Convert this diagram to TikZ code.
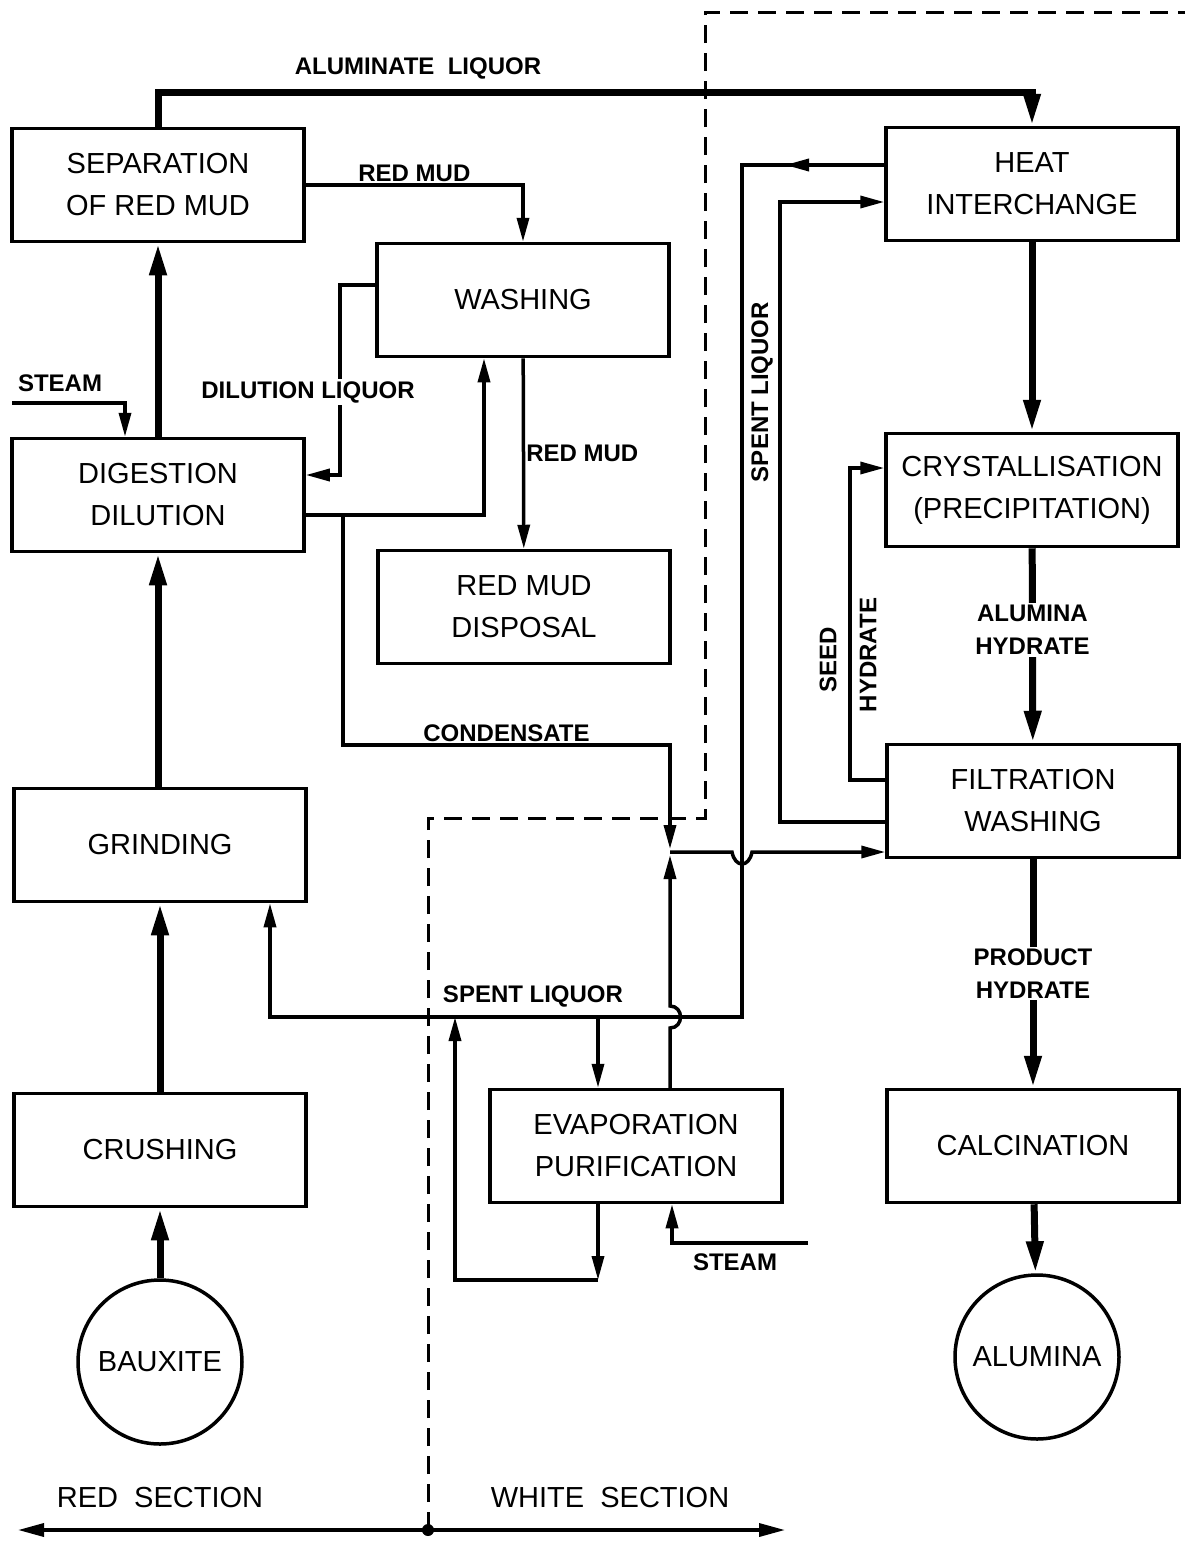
\documentclass[tikz,border=0pt]{standalone}
\usepackage{fontspec}
\setmainfont{Liberation Sans}
\usetikzlibrary{arrows.meta, positioning}

\begin{document}
\begin{tikzpicture}[
    x=1pt, y=-1pt,
    box/.style={rectangle, draw=black, line width=3.5pt,
                minimum width=292pt, minimum height=113pt, inner sep=1pt,
                font=\fontsize{29}{42}\selectfont, align=center},
    disc/.style={circle, draw=black, line width=3.5pt, minimum size=164pt,
                 inner sep=0pt, font=\fontsize{29}{34}\selectfont},
    main/.style={line width=7pt, -{Triangle[length=32pt, width=16pt]}},
    flow/.style={line width=3.5pt, -{Triangle[length=24pt, width=12pt]}},
    pipe/.style={line width=3.5pt},
    lbl/.style={font=\bfseries\fontsize{24}{33}\selectfont, inner sep=2pt},
    sect/.style={line width=3pt, dash pattern=on 18pt off 10pt}
]
\useasboundingbox (0,0) rectangle (1185,1545);

% red section
\node[box] (sep)   at (158,185)  {SEPARATION\\OF RED MUD};
\node[box] (wash)  at (523,300)  {WASHING};
\node[box] (dig)   at (158,495)  {DIGESTION\\DILUTION};
\node[box] (disp)  at (524,607)  {RED MUD\\DISPOSAL};
\node[box] (grind) at (160,845)  {GRINDING};
\node[box] (crush) at (160,1150) {CRUSHING};
\node[disc] (baux) at (160,1362) {BAUXITE};

% white section
\node[box] (evap)  at (636,1146) {EVAPORATION\\PURIFICATION};
\node[box] (heat)  at (1032,184) {HEAT\\INTERCHANGE};
\node[box] (cryst) at (1032,490) {CRYSTALLISATION\\(PRECIPITATION)};
\node[box] (filt)  at (1033,801) {FILTRATION\\WASHING};
\node[box] (calc)  at (1033,1146) {CALCINATION};
\node[disc] (alum) at (1037,1357) {ALUMINA};

\coordinate (junc)   at (670,852);
\coordinate (steamA) at (12,403);
\coordinate (steamB) at (808,1243);

% main stream
\draw[main] (baux) -- (crush);
\draw[main] (crush) -- (grind);
\draw[main] (grind.north -| dig.south) -- (dig.south);
\draw[main] (dig) -- (sep);
\draw[main] (sep.north) -- (158,92) -| (heat.north);
\node[lbl] (alumlbl) at (418,68) {ALUMINATE\ \ LIQUOR};
\draw[main] (heat) -- (cryst);
\draw[main] (cryst) -- node[lbl, fill=white, align=center, pos=0.42] (hydlbl) {ALUMINA\\HYDRATE} (filt);
\draw[main] (filt) -- node[lbl, fill=white, align=center] (prodlbl) {PRODUCT\\HYDRATE} (calc);
\draw[main] (calc) -- (alum);

% red mud circuit
\draw[flow] (sep.east) -| node[lbl, above, pos=0.25] (mudlbl) {RED MUD} (wash.north);
\draw[flow] (wash) -- node[lbl, right, inner sep=1pt] (mudlbl2) {RED MUD} (disp);
\draw[flow] (wash.west |- 0,285) -- (340,285) -- (340,475) -- (dig.east |- 0,475);
\node[lbl, fill=white] (dillbl) at (308,392) {DILUTION LIQUOR};
\draw[flow] (dig.east |- 0,515) -| (wash.south -| 484,0);
\draw[flow] (steamA) -| (dig.north -| 125,0);
\node[lbl] (steamlbl) at (60,383) {STEAM};

% condensate and liquor returns
\draw[flow, shorten >=3pt] (343,515) |- node[lbl, above, pos=0.75] (condlbl) {CONDENSATE} (670,745) -- (junc);
\draw[flow, shorten >=3pt] (evap.north -| 670,0) -- (670,1028)
    .. controls (684,1028) and (684,1006) .. (670,1006) -- (junc);
\draw[flow] (junc) -- (732,852) .. controls (735,868) and (749,868) .. (752,852)
    -- (filt.west |- junc);
\draw[pipe] (heat.west |- 0,165) -| (742,1017) -| (270,930);
\draw[flow] (heat.west |- 0,165) -- (785,165);
\draw[flow] (270,1017) -- (grind.south -| 270,0);
\node[lbl, rotate=90] (spentv) at (762,392) {SPENT LIQUOR};
\node[lbl] (spenth) at (533,996) {SPENT LIQUOR};
\draw[flow] (598,1017) -- (evap.north -| 598,0);
\draw[flow] (evap.south -| 598,0) -- (598,1280);
\draw[flow] (598,1280) -- (455,1280) -- (455,1017);
\draw[flow] (steamB) -| (evap.south -| 672,0);
\node[lbl] (steamlbl2) at (735,1262) {STEAM};
\draw[flow] (filt.west |- 0,822) -| (780,202) -- (heat.west |- 0,202);
\draw[flow] (filt.west |- 0,780) -| (850,468) -- (cryst.west |- 0,468);
\node[lbl, rotate=90] (seedlbl) at (828,660) {SEED};
\node[lbl, rotate=90] (hydlbl2) at (868,655) {HYDRATE};

% section boundary
\draw[sect] (428,1530) -- (428,818) -- (705,818) -- (705,12) -- (1185,12);
\draw[line width=3.5pt, {Triangle[length=26pt, width=13pt]}-{Triangle[length=26pt, width=13pt]}]
    (18,1530) -- (785,1530);
\fill (428,1530) circle (6pt);
\node[font=\fontsize{29}{34}\selectfont] (redsec) at (160,1497) {RED\ \ SECTION};
\node[font=\fontsize{29}{34}\selectfont] (whitesec) at (610,1497) {WHITE\ \ SECTION};
\end{tikzpicture}
\end{document}
